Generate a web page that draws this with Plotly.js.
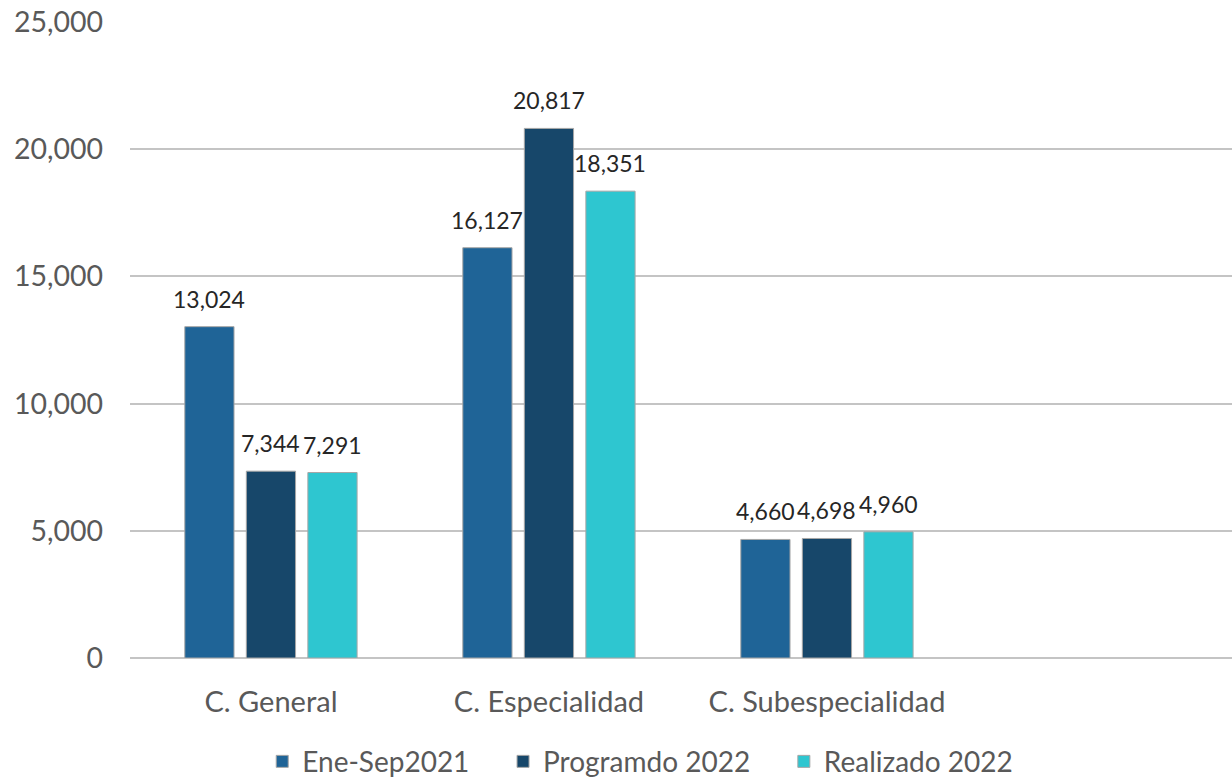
<!DOCTYPE html>
<html>
<head>
<meta charset="utf-8">
<script src="https://cdn.plot.ly/plotly-3.0.1.min.js"></script>
<style>html,body{margin:0;padding:0;background:#fff;}#chart{width:1232px;height:778px;}</style>
</head>
<body>
<div id="chart"></div>
<script>
const categories = ["C. General", "C. Especialidad", "C. Subespecialidad"];
const seriesNames = ["Ene-Sep2021", "Programdo 2022", "Realizado 2022"];
const eneSep2021 = [13024, 16127, 4660];
const programdo2022 = [7344, 20817, 4698];
const realizado2022 = [7291, 18351, 4960];
const colors = ["#1F6497", "#17476A", "#2EC6D0"];
const yTicks = [0, 5000, 10000, 15000, 20000, 25000];
const yTickText = ["0", "5,000", "10,000", "15,000", "20,000", "25,000"];

const fontFam = "Lato, 'Open Sans', sans-serif";
const fmt = v => v.toLocaleString("en-US");
const all = [eneSep2021, programdo2022, realizado2022];
const legendPad = ["\u00a0\u00a0\u00a0\u00a0", "\u00a0\u00a0\u00a0\u00a0", ""];
const traces = all.map((vals, i) => ({
  type: "bar",
  name: seriesNames[i] + legendPad[i],
  x: categories,
  y: vals,
  hoverinfo: "skip",
  marker: {color: colors[i], line: {color: "#A6A6A6", width: 1}}
}));

// bar slot offset in px (group layout) for label placement
const slotPx = 61.5;
const annotations = [];
all.forEach((vals, i) => {
  vals.forEach((v, j) => {
    annotations.push({
      x: categories[j], y: v, xref: "x", yref: "y",
      text: fmt(v), showarrow: false,
      xanchor: "center", yanchor: "bottom",
      xshift: (i - 1) * slotPx, yshift: 12,
      font: {family: fontFam, size: 23, color: "#262626"}
    });
  });
});

const layout = {
  width: 1232, height: 778,
  margin: {l: 130, r: 0, t: 22, b: 120, autoexpand: false},
  paper_bgcolor: "#fff", plot_bgcolor: "#fff",
  barmode: "group",
  bargap: 0.336,
  bargroupgap: 0.2,
  showlegend: true,
  annotations: annotations,
  legend: {
    orientation: "h", x: 0.463, xanchor: "center", y: -0.163, yanchor: "middle",
    font: {family: fontFam, size: 28, color: "#595959"},
    itemwidth: 30, traceorder: "normal"
  },
  xaxis: {
    type: "category",
    range: [-0.507, 3.457],
    showgrid: false, zeroline: false,
    showline: false,
    ticks: "",
    ticklabelstandoff: 24,
    tickfont: {family: fontFam, size: 29, color: "#595959"}
  },
  yaxis: {
    range: [0, 25000],
    tickvals: yTicks, ticktext: yTickText,
    showgrid: true, gridcolor: "#C4C4C4", gridwidth: 2,
    zeroline: true, zerolinecolor: "#C4C4C4", zerolinewidth: 2,
    showline: false, ticks: "",
    ticklabelstandoff: 26,
    tickfont: {family: fontFam, size: 28.5, color: "#595959"}
  }
};

Plotly.newPlot("chart", traces, layout, {displayModeBar: false, staticPlot: true});
</script>
</body>
</html>
